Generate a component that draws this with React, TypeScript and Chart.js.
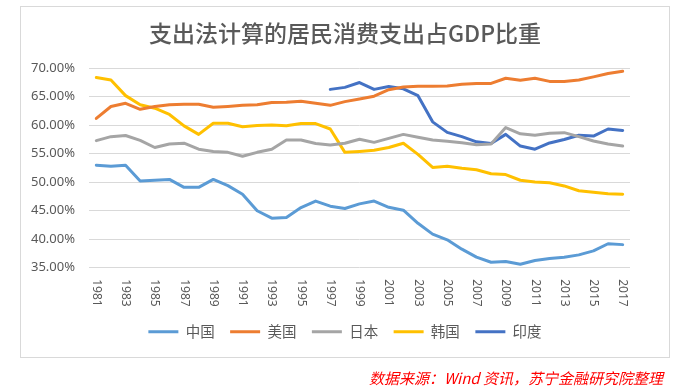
import React, { useEffect, useRef } from "react";
import { Chart, registerables } from "chart.js";

Chart.register(...registerables);

const TITLE = "支出法计算的居民消费支出占GDP比重";
const SOURCE = "数据来源：Wind 资讯，苏宁金融研究院整理";

const years = [
  "1981", "1982", "1983", "1984", "1985", "1986", "1987", "1988", "1989", "1990",
  "1991", "1992", "1993", "1994", "1995", "1996", "1997", "1998", "1999", "2000",
  "2001", "2002", "2003", "2004", "2005", "2006", "2007", "2008", "2009", "2010",
  "2011", "2012", "2013", "2014", "2015", "2016", "2017",
];

const seriesNames = ["中国", "美国", "日本", "韩国", "印度"];
const seriesColors = ["#5B9BD5", "#ED7D31", "#A5A5A5", "#FFC000", "#4472C4"];

const china = [
  53.0, 52.8, 53.0, 50.2, 50.35, 50.5, 49.1, 49.1, 50.5, 49.4,
  47.9, 45.0, 43.7, 43.8, 45.55, 46.7, 45.8, 45.4, 46.2, 46.7,
  45.6, 45.1, 42.8, 40.9, 39.9, 38.25, 36.85, 35.95, 36.1, 35.6,
  36.25, 36.6, 36.85, 37.25, 37.95, 39.2, 39.05,
];
const usa = [
  61.2, 63.3, 63.85, 62.8, 63.3, 63.6, 63.7, 63.7, 63.15, 63.3,
  63.5, 63.6, 64.0, 64.05, 64.2, 63.85, 63.5, 64.15, 64.6, 65.1,
  66.25, 66.7, 66.85, 66.85, 66.9, 67.2, 67.35, 67.35, 68.25, 67.9,
  68.25, 67.7, 67.7, 67.95, 68.5, 69.1, 69.5,
];
const japan = [
  57.3, 58.0, 58.2, 57.35, 56.1, 56.7, 56.85, 55.8, 55.4, 55.25,
  54.55, 55.25, 55.8, 57.4, 57.4, 56.8, 56.55, 56.85, 57.55, 57.0,
  57.7, 58.4, 57.9, 57.4, 57.2, 56.95, 56.6, 56.7, 59.6, 58.5,
  58.25, 58.6, 58.7, 58.0, 57.25, 56.7, 56.35,
];
const korea = [
  68.4, 67.95, 65.2, 63.6, 63.0, 61.9, 59.9, 58.4, 60.35, 60.35,
  59.75, 59.95, 60.05, 59.9, 60.3, 60.3, 59.35, 55.25, 55.4, 55.6,
  56.1, 56.85, 54.9, 52.6, 52.8, 52.45, 52.2, 51.5, 51.35, 50.35,
  50.05, 49.9, 49.35, 48.5, 48.25, 48.0, 47.9,
];
const india = [
  null, null, null, null, null, null, null, null, null, null,
  null, null, null, null, null, null, 66.3, 66.65, 67.5, 66.3,
  66.8, 66.4, 65.2, 60.6, 58.75, 58.0, 57.1, 56.8, 58.4, 56.35,
  55.8, 56.9, 57.5, 58.25, 58.1, 59.35, 59.1,
];

const seriesValues = [china, usa, japan, korea, india];

const yMin = 35;
const yMax = 70;
const yStep = 5;

const LATIN_FONT = '"Noto Sans", "Noto Sans CJK SC", sans-serif';
const CJK_FONT = '"Noto Sans CJK SC", "Noto Sans", sans-serif';
const TEXT_COLOR = "#595959";
const GRID_COLOR = "#D9D9D9";

const rotatedXLabels = {
  id: "rotatedXLabels",
  afterDraw(chart: any) {
    const { ctx, chartArea, scales } = chart;
    const xs = scales.x;
    ctx.save();
    ctx.font = `12px ${LATIN_FONT}`;
    ctx.fillStyle = TEXT_COLOR;
    ctx.textAlign = "left";
    ctx.textBaseline = "middle";
    years.forEach((label, i) => {
      if (i % 2 !== 0) return;
      const x = xs.getPixelForValue(i);
      ctx.save();
      ctx.translate(x, chartArea.bottom + 11.5);
      ctx.rotate(Math.PI / 2);
      ctx.fillText(label, 0, 0);
      ctx.restore();
    });
    ctx.restore();
  },
};

export default function App() {
  const canvasRef = useRef<HTMLCanvasElement | null>(null);

  useEffect(() => {
    if (!canvasRef.current) return;
    const chart = new Chart(canvasRef.current, {
      type: "line",
      data: {
        labels: years,
        datasets: seriesNames.map((name, i) => ({
          label: name,
          data: seriesValues[i],
          borderColor: seriesColors[i],
          backgroundColor: seriesColors[i],
          borderWidth: 3,
          pointRadius: 0,
          pointHoverRadius: 0,
          fill: false,
          tension: 0,
          spanGaps: false,
          borderJoinStyle: "round",
          borderCapStyle: "round",
        })),
      },
      options: {
        responsive: false,
        animation: false,
        devicePixelRatio: 1,
        layout: { padding: { left: 21, right: 10, top: 7, bottom: 42 } },
        plugins: {
          tooltip: { enabled: false },
          title: {
            display: true,
            text: TITLE,
            color: TEXT_COLOR,
            font: { family: CJK_FONT, size: 23, weight: "500", lineHeight: 1.2 },
            padding: { top: 12.2, bottom: 21.5 },
          },
          legend: {
            display: true,
            position: "bottom",
            labels: {
              font: { family: CJK_FONT, size: 14.5 },
              color: TEXT_COLOR,
              boxWidth: 30,
              boxHeight: 3,
              padding: 15.5,
              generateLabels: (c: any) =>
                c.data.datasets.map((ds: any, i: number) => ({
                  text: ds.label,
                  fillStyle: ds.borderColor,
                  strokeStyle: ds.borderColor,
                  lineWidth: 0,
                  hidden: false,
                  datasetIndex: i,
                  fontColor: TEXT_COLOR,
                })),
            },
          },
        },
        scales: {
          x: {
            type: "category",
            offset: true,
            grid: { display: false },
            border: { display: false },
            ticks: { display: false },
            afterFit: (s: any) => {
              s.height = 41.3;
            },
          },
          y: {
            position: "left",
            min: yMin,
            max: yMax,
            grid: { color: GRID_COLOR, lineWidth: 1, drawTicks: false },
            border: { display: false },
            ticks: {
              stepSize: yStep,
              padding: 14,
              color: TEXT_COLOR,
              font: { family: LATIN_FONT, size: 13 },
              callback: (v: any) => Number(v).toFixed(2) + "%",
            },
            afterFit: (s: any) => {
              s.width = 68;
            },
          },
          y2: {
            position: "right",
            min: 0,
            max: 1,
            grid: { display: false },
            border: { display: false },
            ticks: { display: false },
            afterFit: (s: any) => {
              s.width = 39;
            },
          },
        },
      },
      plugins: [rotatedXLabels],
    } as any);
    return () => chart.destroy();
  }, []);

  return (
    <div
      style={{
        position: "absolute",
        left: 0,
        top: 0,
        width: 679,
        height: 391,
        background: "#FFFFFF",
        overflow: "hidden",
      }}
    >
      <div
        style={{
          position: "absolute",
          left: 20,
          top: 6,
          width: 650,
          height: 352,
          boxSizing: "border-box",
          border: `1px solid ${GRID_COLOR}`,
        }}
      />
      <canvas
        ref={canvasRef}
        width={679}
        height={391}
        style={{ position: "absolute", left: 0, top: 0, width: 679, height: 391 }}
      />
      <div
        style={{
          position: "absolute",
          left: 0,
          top: 368,
          width: 663,
          textAlign: "right",
          fontFamily: CJK_FONT,
          fontStyle: "italic",
          fontSize: 15,
          lineHeight: "20px",
          color: "#FF0000",
          whiteSpace: "nowrap",
        }}
      >
        {SOURCE}
      </div>
    </div>
  );
}
